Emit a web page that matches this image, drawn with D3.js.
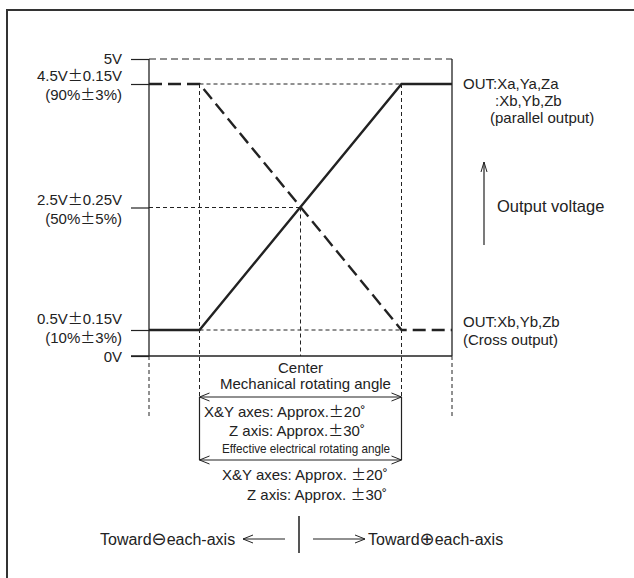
<!DOCTYPE html>
<html><head><meta charset="utf-8">
<script src="https://cdn.jsdelivr.net/npm/d3@7"></script>
<style>
body{margin:0;background:#fff;}
svg text{font-family:"Liberation Sans",Arial,sans-serif;font-size:15px;fill:#222;}
</style></head>
<body><svg id="c" width="634" height="578"></svg>
<script>
// ---- data ----
const voltTicks = [5, 4.5, 2.5, 0.5, 0];
const voltLabels = ["5V", "4.5V±0.15V", "2.5V±0.25V", "0.5V±0.15V", "0V"];
const pctLabels = ["", "(90%±3%)", "(50%±5%)", "(10%±3%)", ""];
const anglePos = [-1.5, -1, 1, 1.5];       // mech. limit, electrical limit, ...
const parallelOut = [0.5, 0.5, 4.5, 4.5];  // OUT Xa,Ya,Za / Xb,Yb,Zb (parallel)
const crossOut = [4.5, 4.5, 0.5, 0.5];     // OUT Xb,Yb,Zb (cross)
const mechLimit = 1.5, elecLimit = 1, centerPos = 0;

const svg = d3.select("#c");
const ink = "#222";
const x = d3.scaleLinear().domain([-mechLimit, mechLimit]).range([149, 452]);
const y = d3.scaleLinear().domain([0, 0.5, 2.5, 4.5, 5]).range([356, 330, 207.5, 84, 59]);

// frame
svg.append("path").attr("d","M7,578V10H634").attr("fill","none").attr("stroke","#333").attr("stroke-width",2);

function line(x1,y1,x2,y2,dash,w){
  return svg.append("line").attr("x1",x1).attr("y1",y1).attr("x2",x2).attr("y2",y2)
    .attr("stroke",ink).attr("stroke-width",w||1).attr("stroke-dasharray",dash||null);
}
function rich(sel, str){
  const parts = str.split(/([±⊖⊕])/);
  parts.forEach(p=>{
    if(!p) return;
    const t = sel.append("tspan").text(p);
    if(p==="±") t.style("font-family","'Noto Sans CJK JP'");
    if(p==="⊖"||p==="⊕") t.style("font-family","'DejaVu Sans'").style("font-size","18px");
  });
  return sel;
}
function txt(xx,yy,str,anchor,size){
  const t = svg.append("text").attr("x",xx).attr("y",yy).attr("dy","0.35em")
    .attr("text-anchor",anchor||"start");
  if(size) t.style("font-size",size+"px");
  return rich(t,str);
}

// y axis ticks via d3 axis
const ax = svg.append("g").attr("transform",`translate(${x(-mechLimit)},0)`)
  .call(d3.axisLeft(y).tickValues(voltTicks).tickSize(18).tickFormat(""));
ax.select(".domain").remove();
ax.selectAll(".tick line").attr("stroke",ink).attr("stroke-width",1.2);

// axis labels
voltTicks.forEach((v,i)=>{
  if(pctLabels[i]){
    txt(122, y(v)-(v<1?11:8), voltLabels[i], "end");
    txt(122, y(v)+(v<1?8:11), pctLabels[i], "end");
  } else {
    txt(122, y(v)+(v===0?1:0), voltLabels[i], "end");
  }
});

// frame of plot: verticals at mech limits, 0V line
line(x(-mechLimit), y(5), x(-mechLimit), y(0), null, 1.3);
line(x(mechLimit), y(5), x(mechLimit), y(0), null, 1.3);
line(131, y(0), x(mechLimit), y(0), null, 1.3);
line(x(-mechLimit), y(0), x(-mechLimit), 418, "4,3", 1);
line(x(mechLimit), y(0), x(mechLimit), 418, "4,3", 1);

// guide lines
line(x(-mechLimit), y(5), x(mechLimit), y(5), "7,4", 1);
line(x(-elecLimit), y(4.5), x(elecLimit), y(4.5), "4,3", 1);
line(x(-mechLimit), y(2.5), x(centerPos), y(2.5), "4,3", 1);
line(x(-elecLimit), y(0.5), x(elecLimit), y(0.5), "4,3", 1);
line(x(-elecLimit), y(4.5), x(-elecLimit), 397, "4,3", 1);
line(x(elecLimit), y(4.5), x(elecLimit), 397, "4,3", 1);
line(x(centerPos), y(2.5), x(centerPos), y(0), "4,3", 1);

// output curves
const gen = d3.line().x(d=>x(d[0])).y(d=>y(d[1]));
svg.append("path").attr("d",gen(anglePos.map((a,i)=>[a,parallelOut[i]])))
  .attr("fill","none").attr("stroke",ink).attr("stroke-width",2.4);
svg.append("path").attr("d",gen(anglePos.map((a,i)=>[a,crossOut[i]])))
  .attr("fill","none").attr("stroke",ink).attr("stroke-width",2.4).attr("stroke-dasharray","13,6");

// right labels
txt(463, y(4.5), "OUT:Xa,Ya,Za");
txt(495, y(4.5)+17, ":Xb,Yb,Zb");
txt(490, y(4.5)+34, "(parallel output)");
txt(463, y(0.5)-8, "OUT:Xb,Yb,Zb");
txt(463, y(0.5)+10, "(Cross output)");
txt(497, y(2.5)-1, "Output voltage", "start", 16.5);

// arrows
function arrowHead(tx,ty,dir){ // dir: 'l','r','u'
  let d;
  if(dir==='l') d=`M${tx+10},${ty-4}L${tx},${ty}L${tx+10},${ty+4}`;
  if(dir==='r') d=`M${tx-10},${ty-4}L${tx},${ty}L${tx-10},${ty+4}`;
  if(dir==='u') d=`M${tx-3},${ty+10}L${tx},${ty}L${tx+3},${ty+10}`;
  svg.append("path").attr("d",d).attr("fill","none").attr("stroke",ink).attr("stroke-width",1);
}
line(484, 245, 484, 162, null, 1.2); arrowHead(484,162,'u');

// angle range box
const xl = x(-elecLimit), xr = x(elecLimit);
[397, 460].forEach(yy=>{ line(xl,yy,xr,yy,null,1.2); arrowHead(xl,yy,'l'); arrowHead(xr,yy,'r'); });
line(xl,397,xl,460,null,1.2); line(xr,397,xr,460,null,1.2);

txt(x(centerPos), 368, "Center", "middle");
txt(x(centerPos)+5, 384, "Mechanical rotating angle", "middle");
txt(204, 412, "X&Y axes: Approx.±20˚");
txt(229, 431, "Z axis: Approx.±30˚");
txt(222, 448, "Effective electrical rotating angle", "start", 13.5)
  .attr("textLength",168).attr("lengthAdjust","spacingAndGlyphs");
txt(222, 475, "X&Y axes: Approx. ±20˚");
txt(247, 495, "Z axis: Approx. ±30˚");

// bottom direction
txt(100, 539, "Toward⊖each-axis", "start", 16);
line(243,539,285,539,null,1.2); arrowHead(243,539,'l');
line(299,516,299,553,"",2).attr("stroke","#555");
line(313,539,365,539,null,1.2); arrowHead(365,539,'r');
txt(368, 539, "Toward⊕each-axis", "start", 16);
</script></body></html>
